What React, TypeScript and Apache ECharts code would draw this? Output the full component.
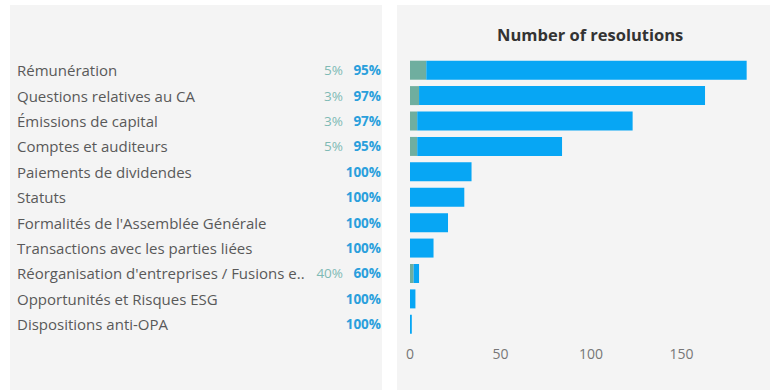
import React, { useEffect, useRef } from "react";
import * as echarts from "echarts";

const categories = [
  "Rémunération",
  "Questions relatives au CA",
  "Émissions de capital",
  "Comptes et auditeurs",
  "Paiements de dividendes",
  "Statuts",
  "Formalités de l'Assemblée Générale",
  "Transactions avec les parties liées",
  "Réorganisation d'entreprises / Fusions e..",
  "Opportunités et Risques ESG",
  "Dispositions anti-OPA",
];
const againstValues = [9, 5, 4, 4, 0, 0, 0, 0, 2, 0, 0];
const forValues = [177, 158, 119, 80, 34, 30, 21, 13, 3, 3, 1];
const xTicks = [0, 50, 100, 150];

const FONT = "'Open Sans', 'Noto Sans', sans-serif";

export default function App() {
  const ref = useRef<HTMLDivElement>(null);
  useEffect(() => {
    if (!ref.current) return;
    const chart = echarts.init(ref.current, undefined, { renderer: "svg" });
    const labelFor = (i: number) => {
      const total = againstValues[i] + forValues[i];
      const a = Math.round((againstValues[i] / total) * 100);
      const f = 100 - a;
      return { a: againstValues[i] > 0 ? a + "%" : " ", f: f + "%" };
    };
    chart.setOption({
      animation: false,
      backgroundColor: "#ffffff",
      textStyle: { fontFamily: FONT },
      title: {
        text: "Number of resolutions",
        left: 492,
        top: 21,
        textStyle: { fontFamily: FONT, fontSize: 16.5, fontWeight: "bold", color: "#333333" },
      },
      graphic: [
        { type: "rect", z: -10, shape: { x: 10, y: 5, width: 372, height: 385 }, style: { fill: "#f4f4f4" } },
        { type: "rect", z: -10, shape: { x: 397, y: 5, width: 373, height: 385 }, style: { fill: "#f4f4f4" } },
      ],
      grid: { left: 410, top: 57.5, bottom: 53, width: 195 * 1.81 },
      xAxis: {
        type: "value",
        min: 0,
        max: 195,
        interval: 50,
        splitLine: { show: false },
        axisLine: { show: false },
        axisTick: { show: false },
        axisLabel: {
          showMaxLabel: false,
          margin: 9,
          color: "#777777",
          fontSize: 14,
          fontFamily: FONT,
          formatter: (v: number) => (xTicks.includes(v) ? String(v) : ""),
        },
      },
      yAxis: {
        type: "category",
        inverse: true,
        data: categories,
        axisLine: { show: false },
        axisTick: { show: false },
        axisLabel: {
          align: "left",
          margin: 393,
          formatter: (value: string, idx: number) => {
            const l = labelFor(idx);
            return `{n|${value}}{a|${l.a}}{b|${l.f}}`;
          },
          rich: {
            n: { width: 296, color: "#595959", fontSize: 15, fontFamily: FONT, align: "left" },
            a: { width: 30, color: "#7fbab5", fontSize: 13.5, fontFamily: FONT, align: "right" },
            b: { width: 38, color: "#2a9fdc", fontSize: 13.5, fontWeight: "bold", fontFamily: FONT, align: "right" },
          },
        },
      },
      series: [
        {
          name: "Against",
          type: "bar",
          stack: "total",
          barWidth: 19,
          data: againstValues,
          itemStyle: { color: "#6fae9f" },
        },
        {
          name: "For",
          type: "bar",
          stack: "total",
          barWidth: 19,
          data: forValues,
          itemStyle: { color: "#07a6f4" },
        },
      ],
    });
    return () => chart.dispose();
  }, []);
  return <div ref={ref} style={{ position: "fixed", left: 0, top: 0, width: 770, height: 390 }} />;
}
